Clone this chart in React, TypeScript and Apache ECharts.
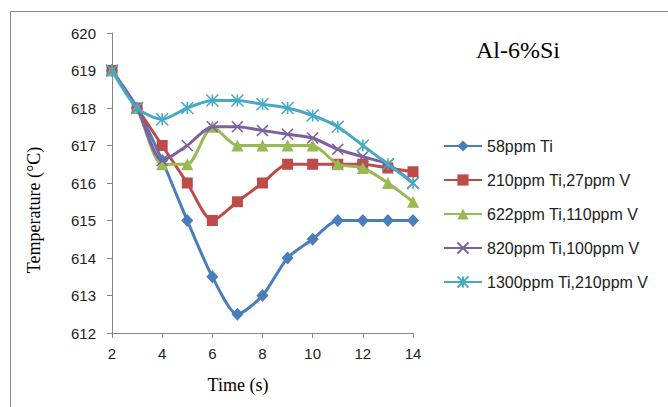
import React, { useEffect, useRef } from "react";
import * as echarts from "echarts";

const times = [2, 3, 4, 5, 6, 7, 8, 9, 10, 11, 12, 13, 14];
const ti58 = [619, 618, 616.6, 615, 613.5, 612.5, 613, 614, 614.5, 615, 615, 615, 615];
const ti210v27 = [619, 618, 617, 616, 615, 615.5, 616, 616.5, 616.5, 616.5, 616.5, 616.4, 616.3];
const ti622v110 = [619, 618, 616.5, 616.5, 617.5, 617, 617, 617, 617, 616.5, 616.4, 616, 615.5];
const ti820v100 = [619, 618, 616.6, 617, 617.5, 617.5, 617.4, 617.3, 617.2, 616.9, 616.7, 616.5, 616];
const ti1300v210 = [619, 618, 617.7, 618, 618.2, 618.2, 618.1, 618, 617.8, 617.5, 617, 616.5, 616];
const seriesNames = [
  "58ppm Ti",
  "210ppm Ti,27ppm V",
  "622ppm Ti,110ppm V",
  "820ppm Ti,100ppm V",
  "1300ppm Ti,210ppm V",
];
const title = "Al-6%Si";
const xName = "Time (s)";
const yName = "Temperature (\u00B0C)";

const colors = ["#4a7ebb", "#be4b48", "#98b954", "#7d60a0", "#46aac5"];
const symbols = [
  "diamond",
  "rect",
  "triangle",
  "path://M0,0L10,10M10,0L0,10",
  "path://M5,0L5,10M0,0L10,10M10,0L0,10",
];
const symbolSizes: any[] = [[12, 13], 11, 12, 11, 12];

export default function App() {
  const ref = useRef<HTMLDivElement>(null);
  useEffect(() => {
    if (!ref.current) return;
    const chart = echarts.init(ref.current, null, { renderer: "svg" });
    const allData = [ti58, ti210v27, ti622v110, ti820v100, ti1300v210];
    const axisCol = "#868686";
    chart.setOption({
      animation: false,
      backgroundColor: "#ffffff",
      grid: { left: 112, right: 255, top: 33, bottom: 74 },
      legend: {
        orient: "vertical",
        left: 438,
        top: 133,
        itemWidth: 38,
        itemHeight: 14,
        itemGap: 18,
        textStyle: { fontFamily: "Liberation Sans", fontSize: 16, color: "#222", lineHeight: 16, padding: [0, 0, 0, 0] },
        data: seriesNames,
      },
      xAxis: {
        type: "value",
        min: 2,
        max: 14,
        interval: 2,
        axisLine: { show: true, lineStyle: { color: axisCol, width: 1 } },
        axisTick: { show: true, length: 5, inside: false, lineStyle: { color: axisCol } },
        splitLine: { show: false },
        axisLabel: { fontFamily: "Liberation Sans", fontSize: 15, color: "#222", margin: 13 },
      },
      yAxis: {
        type: "value",
        min: 612,
        max: 620,
        interval: 1,
        axisLine: { show: true, lineStyle: { color: axisCol, width: 1 } },
        axisTick: { show: true, length: 5, inside: false, lineStyle: { color: axisCol } },
        splitLine: { show: false },
        axisLabel: { fontFamily: "Liberation Sans", fontSize: 15, color: "#222", margin: 16 },
      },
      graphic: [
        {
          type: "rect",
          shape: { x: 10.5, y: 11.5, width: 700, height: 420 },
          style: { fill: "none", stroke: "#888", lineWidth: 1 },
          silent: true,
        },
        {
          type: "text",
          x: 518,
          y: 50,
          style: {
            text: title,
            font: '24px "Liberation Serif"',
            fill: "#000",
            textAlign: "center",
            textVerticalAlign: "middle",
          },
        },
        {
          type: "text",
          x: 238,
          y: 385,
          style: {
            text: xName,
            font: '18px "Liberation Serif"',
            fill: "#000",
            textAlign: "center",
            textVerticalAlign: "middle",
          },
        },
        {
          type: "text",
          x: 34,
          y: 210,
          rotation: Math.PI / 2,
          style: {
            text: yName,
            font: '18px "Liberation Serif"',
            fill: "#000",
            textAlign: "center",
            textVerticalAlign: "middle",
          },
        },
      ],
      series: seriesNames.map((name, i) => ({
        name,
        type: "line",
        smooth: 0.25,
        data: times.map((t, j) => [t, allData[i][j]]),
        symbol: symbols[i],
        symbolSize: symbolSizes[i],
        lineStyle: { color: colors[i], width: 3 },
        itemStyle: {
          color: colors[i],
          borderColor: colors[i],
          borderWidth: i >= 3 ? 1.6 : 0,
        },
        z: 2 + i,
      })),
    });
    return () => chart.dispose();
  }, []);
  return <div ref={ref} style={{ width: 668, height: 407, position: "absolute", left: 0, top: 0 }} />;
}
